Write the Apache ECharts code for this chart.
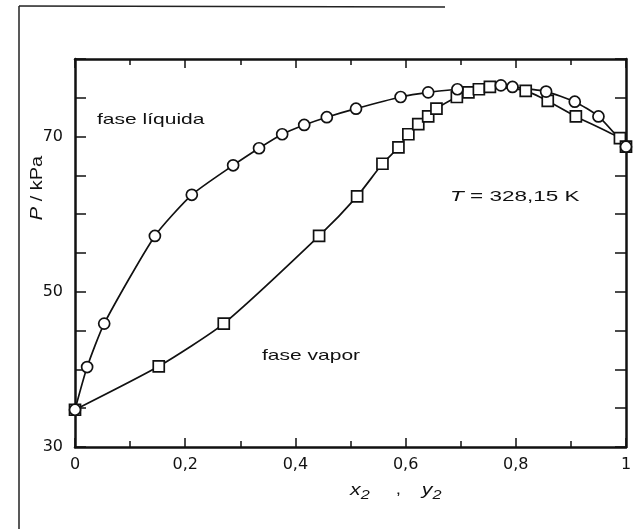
<!DOCTYPE html>
<html>
<head>
<meta charset="utf-8">
<script src="https://cdn.jsdelivr.net/npm/echarts@6/dist/echarts.min.js"></script>
<style>
  html, body { margin: 0; padding: 0; background: #fff; }
  #chart { width: 642px; height: 529px; }
</style>
</head>
<body>
<div id="chart"></div>
<script>
// liquid phase (x2, P/kPa) - circles
var liquidX = [0, 0.022, 0.053, 0.145, 0.212, 0.287, 0.334, 0.376, 0.416, 0.457, 0.510, 0.591, 0.641, 0.694, 0.773, 0.794, 0.855, 0.907, 0.950, 1.0];
var liquidP = [34.8, 40.3, 45.9, 57.2, 62.5, 66.3, 68.5, 70.3, 71.5, 72.5, 73.6, 75.1, 75.7, 76.1, 76.6, 76.4, 75.8, 74.5, 72.6, 68.7];

// vapour phase (y2, P/kPa) - squares
var vaporX = [0, 0.152, 0.270, 0.443, 0.512, 0.558, 0.587, 0.605, 0.623, 0.641, 0.656, 0.693, 0.714, 0.733, 0.753, 0.818, 0.858, 0.909, 0.989, 1.0];
var vaporP = [34.8, 40.4, 45.9, 57.2, 62.3, 66.5, 68.6, 70.3, 71.6, 72.6, 73.6, 75.1, 75.7, 76.1, 76.4, 75.9, 74.6, 72.6, 69.8, 68.7];

var yLabels = [30, 50, 70];

function pairs(xs, ys) {
    return xs.map(function (x, i) { return [x, ys[i]]; });
}

var font = 'Liberation Sans, Arial, sans-serif';
var tickFont = 'DejaVu Sans, sans-serif';
var ink = '#111';

var chart = echarts.init(document.getElementById('chart'));

function xAxisOf(pos, labels) {
    return {
        type: 'value',
        position: pos,
        min: 0,
        max: 1,
        interval: 0.2,
        axisLine: { show: true, onZero: false, lineStyle: { color: ink, width: 2.5 } },
        axisTick: { show: true, inside: true, length: 9, lineStyle: { color: ink, width: 1.5 } },
        minorTick: { show: true, splitNumber: 2, length: 6, lineStyle: { color: ink, width: 1.5 } },
        splitLine: { show: false },
        axisLabel: labels ? {
            color: ink, fontSize: 16, fontFamily: tickFont, margin: 10,
            formatter: function (v) { return String(+v.toFixed(1)).replace('.', ','); }
        } : { show: false }
    };
}

function yAxisOf(pos, labels) {
    return {
        type: 'value',
        position: pos,
        min: 30,
        max: 80,
        interval: 5,
        axisLine: { show: true, onZero: false, lineStyle: { color: ink, width: 2.5 } },
        axisTick: { show: true, inside: true, length: 11, lineStyle: { color: ink, width: 1.5 } },
        splitLine: { show: false },
        axisLabel: labels ? {
            color: ink, fontSize: 16, fontFamily: tickFont, margin: 12,
            formatter: function (v) { return yLabels.indexOf(v) >= 0 ? String(v) : ''; }
        } : { show: false }
    };
}

// stretched text, like the scanned lettering
function note(x, y, text, rich, sx) {
    return {
        type: 'text', x: x, y: y, scaleX: sx || 1.4,
        style: {
            text: text, fill: ink, font: '15px ' + font,
            verticalAlign: 'middle', rich: rich
        }
    };
}

var italic = { fontStyle: 'italic', fontSize: 15, fontFamily: font, fill: ink };

var option = {
    backgroundColor: '#fff',
    animation: false,
    grid: { left: 75, right: 16, top: 59, bottom: 82 },
    xAxis: [xAxisOf('bottom', true), xAxisOf('top', false)],
    yAxis: [yAxisOf('left', true), yAxisOf('right', false)],
    series: [
        {
            name: 'fase vapor',
            type: 'line',
            data: pairs(vaporX, vaporP),
            smooth: 0.2,
            symbol: 'rect',
            symbolSize: 11,
            lineStyle: { color: ink, width: 1.7 },
            itemStyle: { color: '#fff', borderColor: ink, borderWidth: 1.7 }
        },
        {
            name: 'fase líquida',
            type: 'line',
            data: pairs(liquidX, liquidP),
            smooth: 0.2,
            symbol: 'circle',
            symbolSize: 11,
            lineStyle: { color: ink, width: 1.7 },
            itemStyle: { color: '#fff', borderColor: ink, borderWidth: 1.7 }
        }
    ],
    graphic: [
        // page border of the scan
        { type: 'line', shape: { x1: 19, y1: 6, x2: 445, y2: 7 }, style: { stroke: '#222', lineWidth: 1.5 } },
        { type: 'line', shape: { x1: 19, y1: 6, x2: 19, y2: 529 }, style: { stroke: '#222', lineWidth: 1.5 } },
        note(97, 120, 'fase líquida'),
        note(262, 356, 'fase vapor'),
        note(450, 197, '{i|T} = 328,15 K', { i: italic }, 1.5),
        note(350, 490, '{i|x}{s|2}     ,    {i|y}{s|2}', {
            i: { fontStyle: 'italic', fontSize: 17, fontFamily: font, fill: ink },
            s: { fontStyle: 'italic', fontSize: 13, fontFamily: font, fill: ink, padding: [10, 0, 0, 0] }
        }, 1.25),
        {
            type: 'text', x: 38, y: 188, rotation: Math.PI / 2, scaleX: 1.25,
            style: {
                text: '{i|P} / kPa',
                fill: ink, font: '16px ' + font,
                align: 'center', verticalAlign: 'middle',
                rich: { i: { fontStyle: 'italic', fontSize: 16, fontFamily: font, fill: ink } }
            }
        }
    ]
};

chart.setOption(option);
</script>
</body>
</html>
